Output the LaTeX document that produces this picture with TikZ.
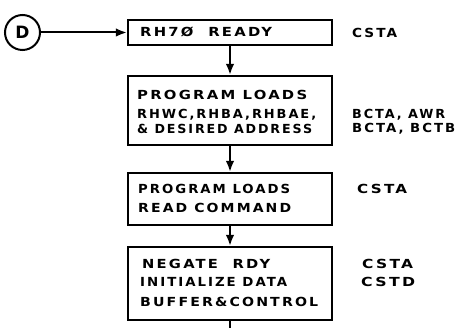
\documentclass[tikz,border=0pt]{standalone}
\usepackage{fontspec}
\usepackage{graphicx}
\usetikzlibrary{arrows.meta}
\newfontfamily\hand{DejaVu Sans}[LetterSpace=15]
\newcommand\fitw[2]{\resizebox{#1}{\height}{#2}}
\begin{document}
\begin{tikzpicture}[x=1pt,y=-1pt,
  box/.style={draw,line width=2.2pt,inner sep=0pt},
  lbl/.style={anchor=west,inner sep=0pt,font=\hand\bfseries\fontsize{12.5}{15}\selectfont},
  conn/.style={line width=2pt,-{Latex[length=11pt,width=8.5pt]}},
  plain/.style={line width=2pt}]
\useasboundingbox (0,0) rectangle (458,328);
\node[circle,draw,line width=2pt,minimum size=35pt,inner sep=0pt,font=\hand\bfseries\fontsize{17}{17}\selectfont] (d) at (22.5,32.5) {D};
\node[box,minimum width=204pt,minimum height=25pt] (b1) at (230,32.5) {};
\node[box,minimum width=204pt,minimum height=69pt] (b2) at (230,110.5) {};
\node[box,minimum width=204pt,minimum height=52pt] (b3) at (230,199) {};
\node[box,minimum width=204pt,minimum height=73pt] (b4) at (230,283.5) {};
\coordinate (end) at (230,330);
% box texts
\node[lbl] (t1) at (140,32) {\fitw{132pt}{RH7Ø\ \ READY}};
\node[lbl] (t21) at (137,95) {\fitw{170pt}{PROGRAM\ LOADS}};
\node[lbl] (t22) at (137,115) {\fitw{179pt}{RHWC,RHBA,RHBAE,}};
\node[lbl] (t23) at (137,129) {\fitw{175pt}{\&\ DESIRED ADDRESS}};
\node[lbl] (t31) at (138,189) {\fitw{152pt}{PROGRAM LOADS}};
\node[lbl] (t32) at (138,208) {\fitw{153pt}{READ COMMAND}};
\node[lbl] (t41) at (142,264) {\fitw{128pt}{NEGATE\ \ RDY}};
\node[lbl] (t42) at (140,282) {\fitw{147pt}{INITIALIZE DATA}};
\node[lbl] (t43) at (140,302) {\fitw{178pt}{BUFFER\&CONTROL}};
% side labels
\node[lbl] (s1) at (352,33) {\fitw{45pt}{CSTA}};
\node[lbl] (s21) at (352,115) {\fitw{93pt}{BCTA, AWR}};
\node[lbl] (s22) at (352,129) {\fitw{103pt}{BCTA, BCTB}};
\node[lbl] (s3) at (357,189) {\fitw{50pt}{CSTA}};
\node[lbl] (s41) at (362,264) {\fitw{51pt}{CSTA}};
\node[lbl] (s42) at (361,282) {\fitw{54pt}{CSTD}};
% connectors
\draw[conn] (d.east) -- (d.east -| b1.west);
\draw[conn] (b1) -- (b2);
\draw[conn] (b2) -- (b3);
\draw[conn] (b3) -- (b4);
\draw[plain] (b4) -- (end);
\end{tikzpicture}
\end{document}
